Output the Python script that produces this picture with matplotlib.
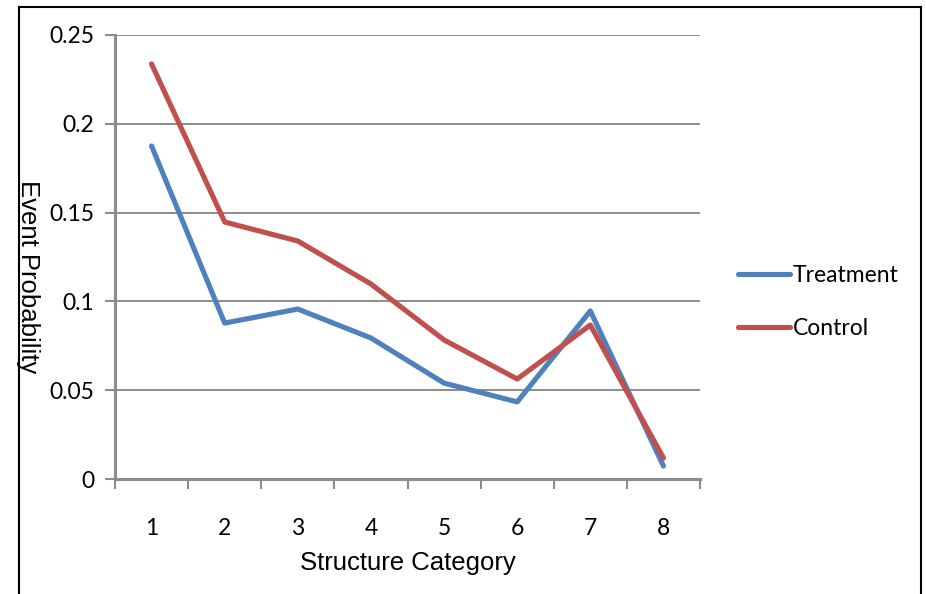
import matplotlib.pyplot as plt
from matplotlib.lines import Line2D

categories = [1, 2, 3, 4, 5, 6, 7, 8]
treatment = [0.1875, 0.0878, 0.0957, 0.0794, 0.0540, 0.0434, 0.0946, 0.0073]
control = [0.2337, 0.1447, 0.1340, 0.1098, 0.0783, 0.0563, 0.0867, 0.0118]
y_ticks = [0, 0.05, 0.1, 0.15, 0.2, 0.25]
y_tick_labels = ["0", "0.05", "0.1", "0.15", "0.2", "0.25"]

grey = "#8c8c8c"
tick_font = "Lato"

fig = plt.figure(figsize=(9.26, 5.94), dpi=100)
ax = fig.add_axes([115 / 926, 115 / 594, 585 / 926, 444 / 594])

ax.plot(categories, treatment, color="#4F81BD", lw=3.7, label="Treatment",
        solid_capstyle="round", solid_joinstyle="round")
ax.plot(categories, control, color="#C0504D", lw=3.7, label="Control",
        solid_capstyle="round", solid_joinstyle="round")

ax.set_xlim(0.5, 8.5)
ax.set_ylim(0, 0.25)

ax.set_yticks(y_ticks)
ax.set_yticklabels(y_tick_labels, fontname=tick_font, fontsize=16.5)
ax.set_xticks(categories)
ax.set_xticklabels([str(c) for c in categories], fontname=tick_font, fontsize=16.5)
ax.set_xticks([c + 0.5 for c in [0] + categories], minor=True)

ax.tick_params(axis="y", length=7, width=1.5, color=grey, pad=8)
ax.tick_params(axis="x", which="major", length=0, pad=28)
ax.tick_params(axis="x", which="minor", length=7, width=1.5, color=grey)

ax.grid(axis="y", color=grey, lw=1.4)
ax.set_axisbelow(True)
for side in ["top", "right"]:
    ax.spines[side].set_visible(False)
for side in ["left", "bottom"]:
    ax.spines[side].set_color(grey)
    ax.spines[side].set_linewidth(2.2)

ax.set_xlabel("Structure Category", fontname="Liberation Sans", fontsize=18.5, labelpad=9)
fig.text(28 / 926, 1 - 277 / 594, "Event Probability", rotation=-90,
         fontname="Liberation Sans", fontsize=18.5, ha="center", va="center")

fig.legend(loc="center left", bbox_to_anchor=(717 / 926, 1 - 302 / 594),
           frameon=False, prop={"family": tick_font, "size": 16.5},
           handlelength=2.3, handletextpad=0.1, labelspacing=1.4)

# outer chart border
fig.add_artist(Line2D([19 / 926, 19 / 926], [0, 1 - 7 / 594], color="black", lw=1.5))
fig.add_artist(Line2D([19 / 926, 921 / 926], [1 - 7 / 594, 1 - 7 / 594], color="black", lw=1.5))
fig.add_artist(Line2D([921 / 926, 921 / 926], [0, 1 - 7 / 594], color="black", lw=1.5))

fig.savefig("out.png", dpi=100)
